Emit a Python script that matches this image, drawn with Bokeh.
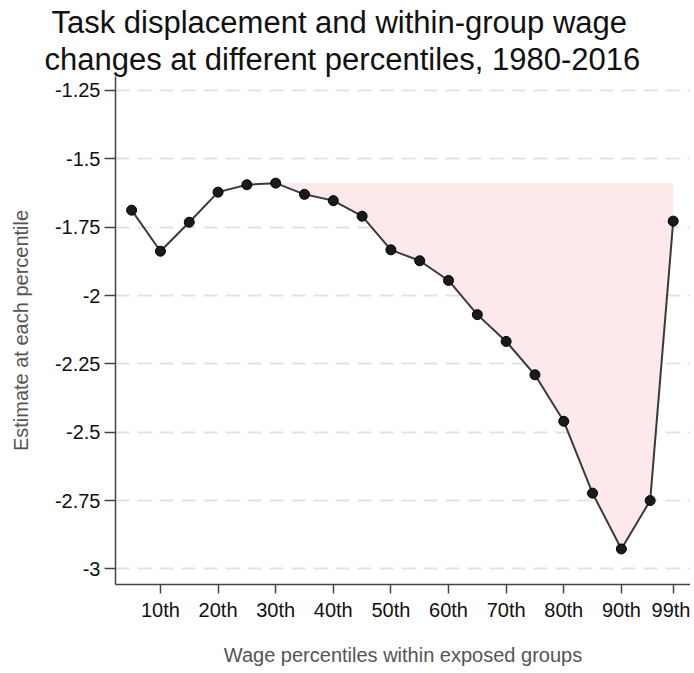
from bokeh.plotting import figure
from bokeh.models import FixedTicker, Range1d, Title, ColumnDataSource
from bokeh.embed import file_html
from bokeh.resources import INLINE

# ---- data ----
percentiles = [5, 10, 15, 20, 25, 30, 35, 40, 45, 50, 55, 60, 65, 70, 75, 80, 85, 90, 95, 99]
estimates = [-1.688, -1.838, -1.732, -1.622, -1.595, -1.589, -1.630, -1.653, -1.710, -1.833,
             -1.873, -1.945, -2.070, -2.168, -2.290, -2.460, -2.723, -2.927, -2.750, -1.728]
x_tick_positions = [10, 20, 30, 40, 50, 60, 70, 80, 90, 99]
x_tick_labels = ["10th", "20th", "30th", "40th", "50th", "60th", "70th", "80th", "90th", "99th"]
y_tick_positions = [-3.0, -2.75, -2.5, -2.25, -2.0, -1.75, -1.5, -1.25]
y_tick_labels = ["-3", "-2.75", "-2.5", "-2.25", "-2", "-1.75", "-1.5", "-1.25"]
title_lines = ["Task displacement and within-group wage",
               "changes at different percentiles, 1980-2016"]
x_title = "Wage percentiles within exposed groups"
y_title = "Estimate at each percentile"

FONT = "Liberation Sans"

p = figure(width=690, height=668, output_backend="svg", toolbar_location=None,
           x_range=Range1d(2.2, 102.0), y_range=Range1d(-3.057, -1.199),
           min_border_left=115, min_border_right=0, min_border_top=76, min_border_bottom=83)
p.outline_line_color = None
p.background_fill_color = "white"

# titles (second line added first so it sits closest to the plot)
title_offsets = [-64, -71]
for txt, off in reversed(list(zip(title_lines, title_offsets))):
    t = Title(text=txt, align="left", offset=off, text_font=FONT, text_font_size="31px",
              text_font_style="normal", text_color="#111111", standoff=0, text_line_height=1.0)
    p.add_layout(t, "above")

# shaded gap between the peak and the curve from the peak onward
peak_idx = estimates.index(max(estimates))
src_fill = ColumnDataSource(dict(x=percentiles[peak_idx:], y1=estimates[peak_idx:],
                                 y2=[max(estimates)] * (len(percentiles) - peak_idx)))
p.varea(x="x", y1="y1", y2="y2", source=src_fill, fill_color="#fde8ea", fill_alpha=1.0)

src = ColumnDataSource(dict(x=percentiles, y=estimates))
p.line("x", "y", source=src, line_color="#3a3a3a", line_width=2)
p.scatter("x", "y", source=src, size=10, fill_color="#1a1a1a", line_color="#000000", line_width=1)

# grid
p.xgrid.visible = False
p.ygrid.ticker = FixedTicker(ticks=y_tick_positions)
p.ygrid.grid_line_color = "#e3e3e3"
p.ygrid.grid_line_width = 2
p.ygrid.grid_line_dash = "14 8"

# axes
p.xaxis.ticker = FixedTicker(ticks=x_tick_positions)
p.xaxis.major_label_overrides = {v: l for v, l in zip(x_tick_positions, x_tick_labels)}
p.yaxis.ticker = FixedTicker(ticks=y_tick_positions)
p.yaxis.major_label_overrides = {v: l for v, l in zip(y_tick_positions, y_tick_labels)}
p.yaxis.major_label_orientation = "horizontal"

for ax in (p.xaxis[0], p.yaxis[0]):
    ax.axis_line_color = "#444444"
    ax.axis_line_width = 1.5
    ax.major_tick_line_color = "#444444"
    ax.major_tick_line_width = 1.5
    ax.major_tick_in = 0
    ax.minor_tick_line_color = None
    ax.major_label_text_font = FONT
    ax.major_label_text_font_size = "20px"
    ax.major_label_text_color = "#111111"
    ax.axis_label_text_font = FONT
    ax.axis_label_text_font_size = "20px"
    ax.axis_label_text_font_style = "normal"
    ax.axis_label_text_color = "#555555"

p.xaxis.major_tick_out = 9
p.yaxis.major_tick_out = 11
p.xaxis.major_label_standoff = 5
p.yaxis.major_label_standoff = 4
p.xaxis.axis_label = x_title
p.yaxis.axis_label = y_title
p.xaxis.axis_label_standoff = 20
p.yaxis.axis_label_standoff = 20

open("out.html", "w").write(file_html(p, INLINE))
